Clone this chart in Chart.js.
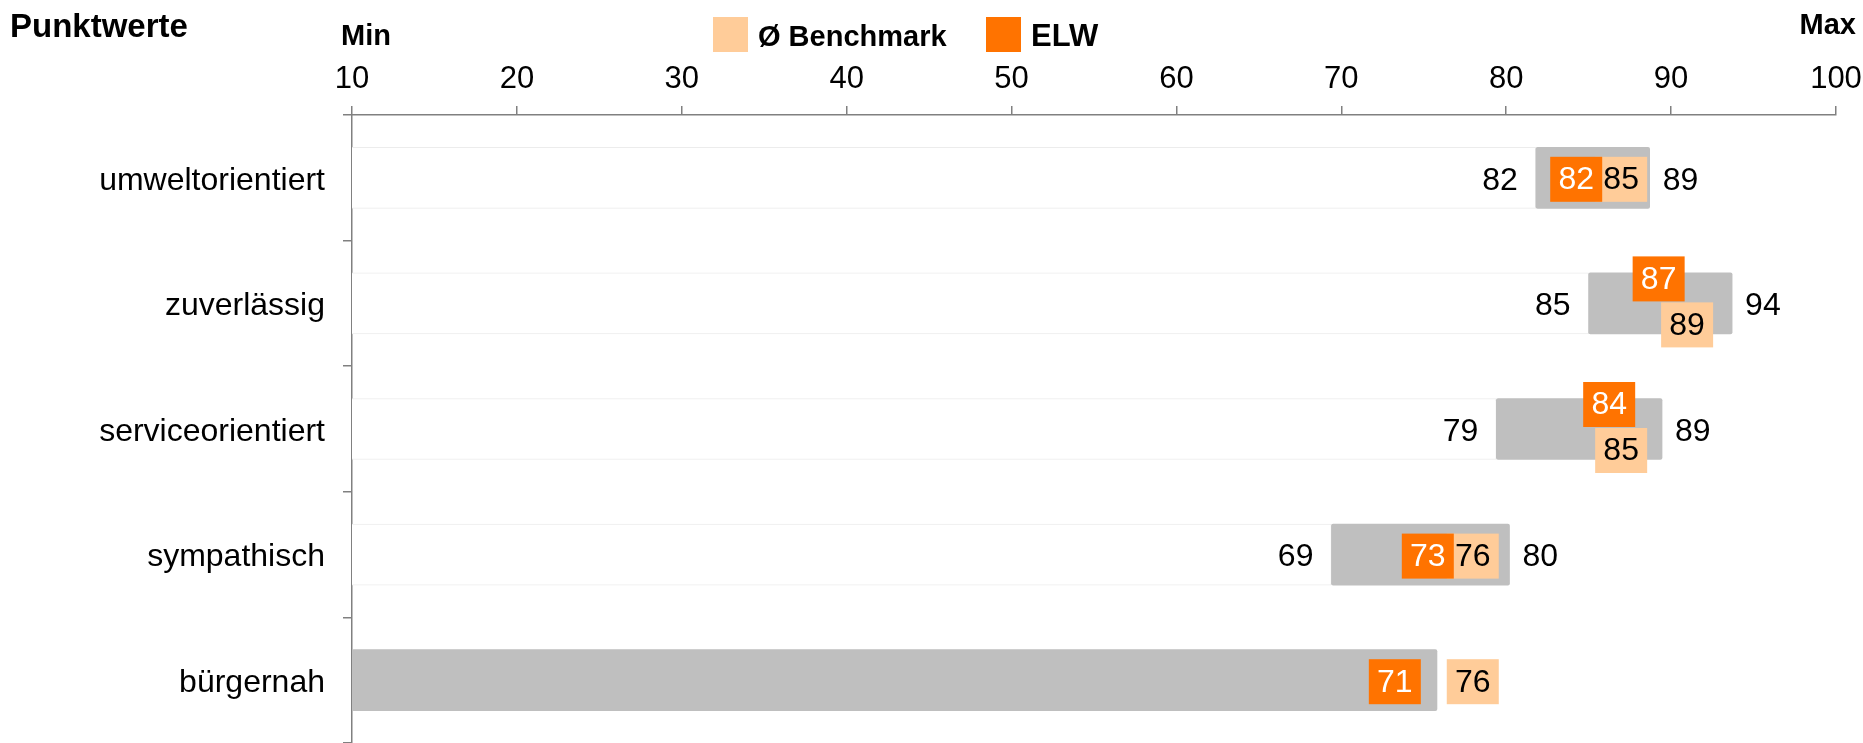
<!DOCTYPE html>
<html><head><meta charset="utf-8">
<script src="https://cdn.jsdelivr.net/npm/chart.js@4.4.1/dist/chart.umd.min.js"></script>
<style>html,body{margin:0;padding:0;background:#fff;overflow:hidden}#wrap{width:1863px;height:743px;position:relative}canvas{display:block}</style>
</head><body><div id="wrap"><canvas id="c" width="1863" height="743" style="width:1863px;height:743px"></canvas></div>
<script>
// ---- data ----
const categories = ['umweltorientiert', 'zuverlässig', 'serviceorientiert', 'sympathisch', 'bürgernah'];
const rangeMin = [81.8, 85.0, 79.4, 69.4, null];
const rangeMax = [88.7, 93.7, 89.45, 80.2, 75.8];
const elwValues = [82, 87, 84, 73, 71];
const benchmarkValues = [85, 89, 85, 76, 76];
const axisMin = 10, axisMax = 100, axisStep = 10;
const titleText = 'Punktwerte', minText = 'Min', maxText = 'Max';
const benchmarkName = 'Ø Benchmark', elwName = 'ELW';

// ---- style ----
const FONT = "'Liberation Sans', Arial, Helvetica, sans-serif";
const C_ELW = '#ff7300', C_BENCH = '#ffcc99', C_RANGE = '#bfbfbf', C_AXIS = '#808080';
Chart.defaults.font.family = FONT;
Chart.defaults.color = '#000';

const baseData = categories.map((c, i) => rangeMin[i] == null ? null : [axisMin, rangeMin[i]]);
const rangeData = categories.map((c, i) => [rangeMin[i] == null ? axisMin : rangeMin[i], rangeMax[i]]);

const BOX_W = 52, BOX_H = 45, ELW_DX = 11, BENCH_DX = 6.5;
const VALUE_FONT = '32px ' + FONT;

const overlay = {
  id: 'overlay',
  afterDatasetsDraw(chart) {
    const ctx = chart.ctx;
    ctx.save();
    const rm = chart.getDatasetMeta(1);
    ctx.font = VALUE_FONT;
    ctx.fillStyle = '#000';
    ctx.textBaseline = 'middle';
    rm.data.forEach((el, i) => {
      if (rangeMin[i] == null) return;
      ctx.textAlign = 'right';
      ctx.fillText(String(Math.round(rangeMin[i])), el.base - 18, el.y + 3);
      ctx.textAlign = 'left';
      ctx.fillText(String(Math.round(rangeMax[i])), el.x + 13, el.y + 3);
    });
    const bm = chart.getDatasetMeta(2), em = chart.getDatasetMeta(3);
    categories.forEach((c, i) => {
      const bp = bm.data[i], ep = em.data[i];
      const bx = bp.x + BENCH_DX, ex = ep.x + ELW_DX;
      const overlap = Math.min(bx, ex) + BOX_W - Math.max(bx, ex);
      let by, ey;
      if (overlap > 16) { ey = ep.y - 47; by = bp.y - 1; }
      else { ey = ep.y - 21; by = bp.y - 21; }
      ctx.fillStyle = C_BENCH;
      ctx.fillRect(bx, by, BOX_W, BOX_H);
      ctx.fillStyle = '#000';
      ctx.textAlign = 'center';
      ctx.fillText(String(benchmarkValues[i]), bx + BOX_W / 2, by + BOX_H / 2 + 1);
      ctx.fillStyle = C_ELW;
      ctx.fillRect(ex, ey, BOX_W, BOX_H);
      ctx.fillStyle = '#fff';
      ctx.fillText(String(elwValues[i]), ex + BOX_W / 2, ey + BOX_H / 2 + 1);
    });
    ctx.restore();
  },
  afterDraw(chart) {
    const ctx = chart.ctx;
    ctx.save();
    ctx.fillStyle = '#000';
    ctx.textBaseline = 'alphabetic';
    ctx.font = 'bold 33px ' + FONT;
    ctx.textAlign = 'left';
    ctx.fillText(titleText, 10, 37);
    ctx.font = 'bold 29px ' + FONT;
    ctx.fillText(minText, 341, 45);
    ctx.textAlign = 'right';
    ctx.fillText(maxText, 1856, 34);
    ctx.textAlign = 'left';
    ctx.fillStyle = C_BENCH; ctx.fillRect(713, 17, 35, 35);
    ctx.fillStyle = '#000'; ctx.fillText(benchmarkName, 758, 46);
    ctx.fillStyle = C_ELW; ctx.fillRect(986, 17, 35, 35);
    ctx.fillStyle = '#000';
    ctx.font = 'bold 31px ' + FONT;
    ctx.fillText(elwName, 1031, 46);
    ctx.restore();
  }
};

new Chart(document.getElementById('c'), {
  type: 'bar',
  data: {
    labels: categories,
    datasets: [
      { label: 'base', data: baseData, backgroundColor: '#ffffff', borderColor: '#ececec', borderWidth: 1,
        borderSkipped: 'start', grouped: false, barThickness: 61, order: 2 },
      { label: 'range', data: rangeData, backgroundColor: C_RANGE, borderRadius: 2, borderSkipped: false,
        grouped: false, barThickness: 61, order: 1 },
      { type: 'line', label: benchmarkName, data: benchmarkValues, showLine: false, pointRadius: 0,
        pointHoverRadius: 0, backgroundColor: C_BENCH, borderColor: C_BENCH },
      { type: 'line', label: elwName, data: elwValues, showLine: false, pointRadius: 0,
        pointHoverRadius: 0, backgroundColor: C_ELW, borderColor: C_ELW }
    ]
  },
  options: {
    indexAxis: 'y',
    responsive: false,
    maintainAspectRatio: false,
    animation: false,
    devicePixelRatio: 1,
    layout: { padding: { left: 0, right: 27, top: 0, bottom: 0 } },
    plugins: { legend: { display: false }, tooltip: { enabled: false } },
    scales: {
      x: {
        type: 'linear', position: 'top', min: axisMin, max: axisMax,
        ticks: { stepSize: axisStep, font: { size: 31 }, color: '#000', padding: 8 },
        grid: { drawOnChartArea: false, drawTicks: true, tickLength: 9, color: C_AXIS, lineWidth: 1.5 },
        border: { display: true, color: C_AXIS, width: 1.5 },
        afterFit(s) { s.height = 115; s.paddingLeft = 0; s.paddingRight = 0; s.paddingTop = 0; s.paddingBottom = 0; }
      },
      y: {
        type: 'category', labels: categories, offset: true,
        ticks: { font: { size: 32 }, color: '#000', padding: 18, labelOffset: 3 },
        grid: { drawOnChartArea: false, drawTicks: true, tickLength: 9, color: C_AXIS, lineWidth: 1.5, offset: true },
        border: { display: true, color: C_AXIS, width: 1.5 },
        afterFit(s) { s.width = 352; s.paddingTop = 0; s.paddingBottom = 0; s.paddingLeft = 0; s.paddingRight = 0; }
      }
    }
  },
  plugins: [overlay]
});
</script>
</body></html>
